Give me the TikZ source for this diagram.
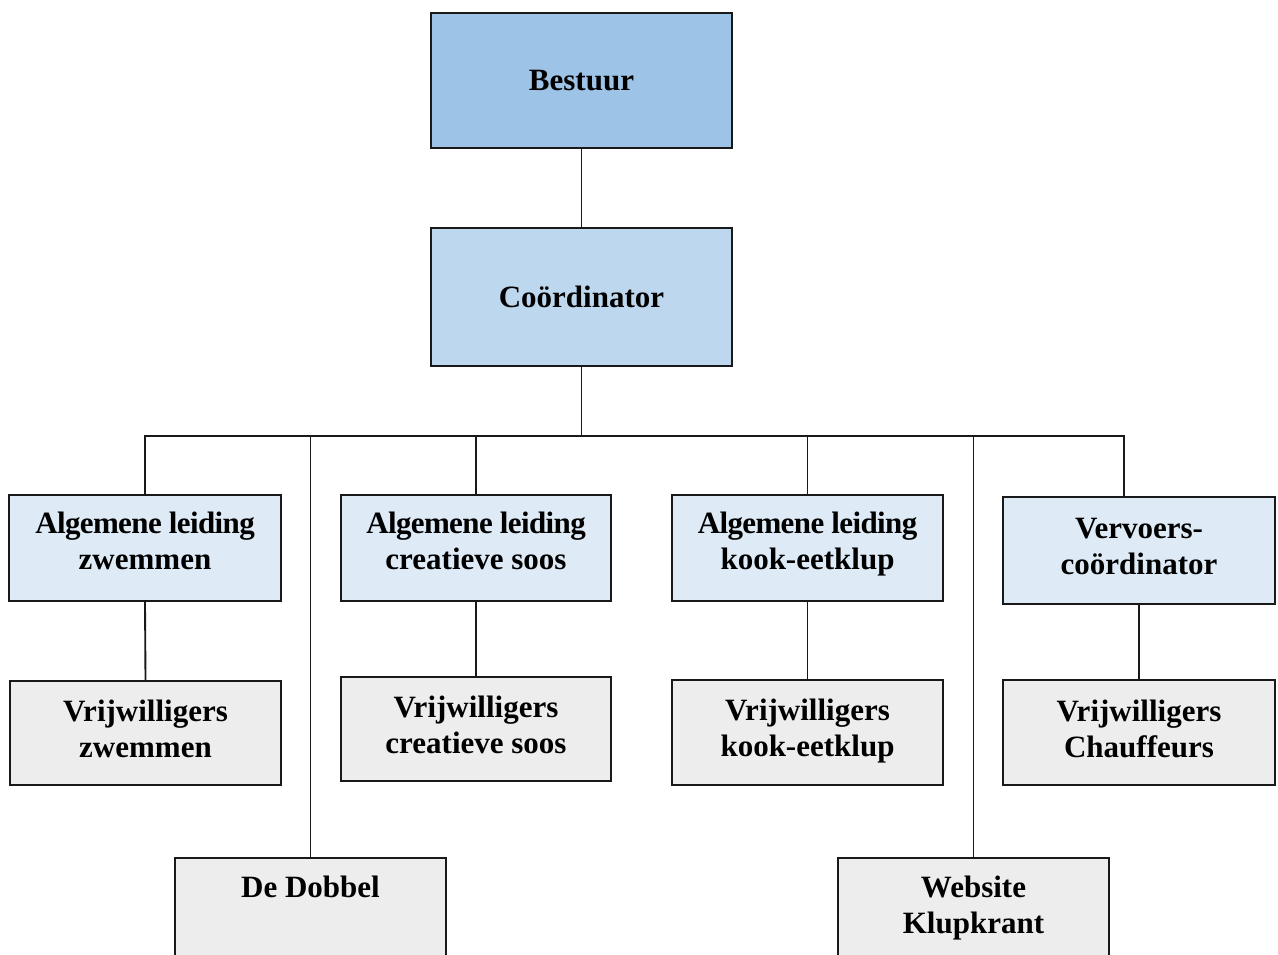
\documentclass[tikz,border=0pt]{standalone}
\usepackage{fontspec}
\setmainfont{Liberation Serif}
\definecolor{cTop}{HTML}{9DC3E6}
\definecolor{cMid}{HTML}{BDD7EE}
\definecolor{cLead}{HTML}{DEEBF7}
\definecolor{cVol}{HTML}{EDEDED}
\begin{document}
\begin{tikzpicture}[x=0.75pt,y=-0.75pt,
  box/.style={draw=black!90, line width=1.5pt, inner sep=0pt},
  txt/.style={align=center, inner sep=0pt, font=\fontsize{23.25}{27}\selectfont\bfseries},
  conn/.style={draw=black!90, line width=1.4pt}]
\useasboundingbox (0,0) rectangle (1278,954);
\fill[white] (0,0) rectangle (1278,954);
% top levels
\node[box, fill=cTop, minimum width=225.75pt, minimum height=101.25pt] (best) at (581.5,80.5) {};
\node[txt] (bestT) at (best.center) {Bestuur};
\node[box, fill=cMid, minimum width=225.75pt, minimum height=103.5pt] (coord) at (581.5,297) {};
\node[txt] (coordT) at (coord.center) {Coördinator};
% leaders
\node[box, fill=cLead, minimum width=204pt, minimum height=79.5pt] (alz) at (145,548) {};
\node[txt] (alzT) at ([yshift=5pt]alz.center) {\addfontfeature{LetterSpace=-2}Algemene leiding\\zwemmen};
\node[box, fill=cLead, minimum width=202.5pt, minimum height=79.5pt] (alc) at (476,548) {};
\node[txt] (alcT) at ([yshift=5pt]alc.center) {\addfontfeature{LetterSpace=-2}Algemene leiding\\creatieve soos};
\node[box, fill=cLead, minimum width=203.25pt, minimum height=79.5pt] (alk) at (807.5,548) {};
\node[txt] (alkT) at ([yshift=2.75pt]alk.center) {\addfontfeature{LetterSpace=-2}Algemene leiding\\kook-eetklup};
\node[box, fill=cLead, minimum width=204pt, minimum height=80.25pt] (verv) at (1139,550.5) {};
\node[txt] (vervT) at ([yshift=3pt]verv.center) {Vervoers-\\coördinator};
% volunteers
\node[box, fill=cVol, minimum width=203.25pt, minimum height=78pt] (vz) at (145.5,733) {};
\node[txt] (vzT) at ([yshift=3pt]vz.center) {Vrijwilligers\\zwemmen};
\node[box, fill=cVol, minimum width=202.5pt, minimum height=78pt] (vc) at (476,729) {};
\node[txt] (vcT) at ([yshift=3pt]vc.center) {Vrijwilligers\\creatieve soos};
\node[box, fill=cVol, minimum width=203.25pt, minimum height=78.75pt] (vk) at (807.5,732.5) {};
\node[txt] (vkT) at ([yshift=0.75pt]vk.center) {Vrijwilligers\\kook-eetklup};
\node[box, fill=cVol, minimum width=204pt, minimum height=78.75pt] (vch) at (1139,732.5) {};
\node[txt] (vchT) at ([yshift=3pt]vch.center) {Vrijwilligers\\Chauffeurs};
% bottom boxes (cut off by page)
\node[box, fill=cVol, minimum width=203.25pt, minimum height=90pt, anchor=north] (dob) at (310.5,857) {};
\node[txt, anchor=north] (dobT) at ([yshift=-14pt]dob.north) {De Dobbel};
\node[box, fill=cVol, minimum width=203.25pt, minimum height=90pt, anchor=north] (web) at (973.5,857) {};
\node[txt, anchor=north] (webT) at ([yshift=-14pt]web.north) {Website\\Klupkrant};
% connectors
\coordinate (bus) at (581.5,436);
\draw[conn] (best.south) -- (coord.north);
\draw[conn] (coord.south) -- (bus);
\draw[conn] (alz.north) |- (bus);
\draw[conn] (dob.north) |- (bus);
\draw[conn] (alc.north) |- (bus);
\draw[conn] (alk.north) |- (bus);
\draw[conn] (web.north) |- (bus);
\draw[conn] ([xshift=-11.25pt]verv.north) |- (bus);
\draw[conn] (alz.south) -- (vz.north);
\draw[conn] (alc.south) -- (vc.north);
\draw[conn] (alk.south) -- (vk.north);
\draw[conn] (verv.south) -- (vch.north);
\end{tikzpicture}
\end{document}
